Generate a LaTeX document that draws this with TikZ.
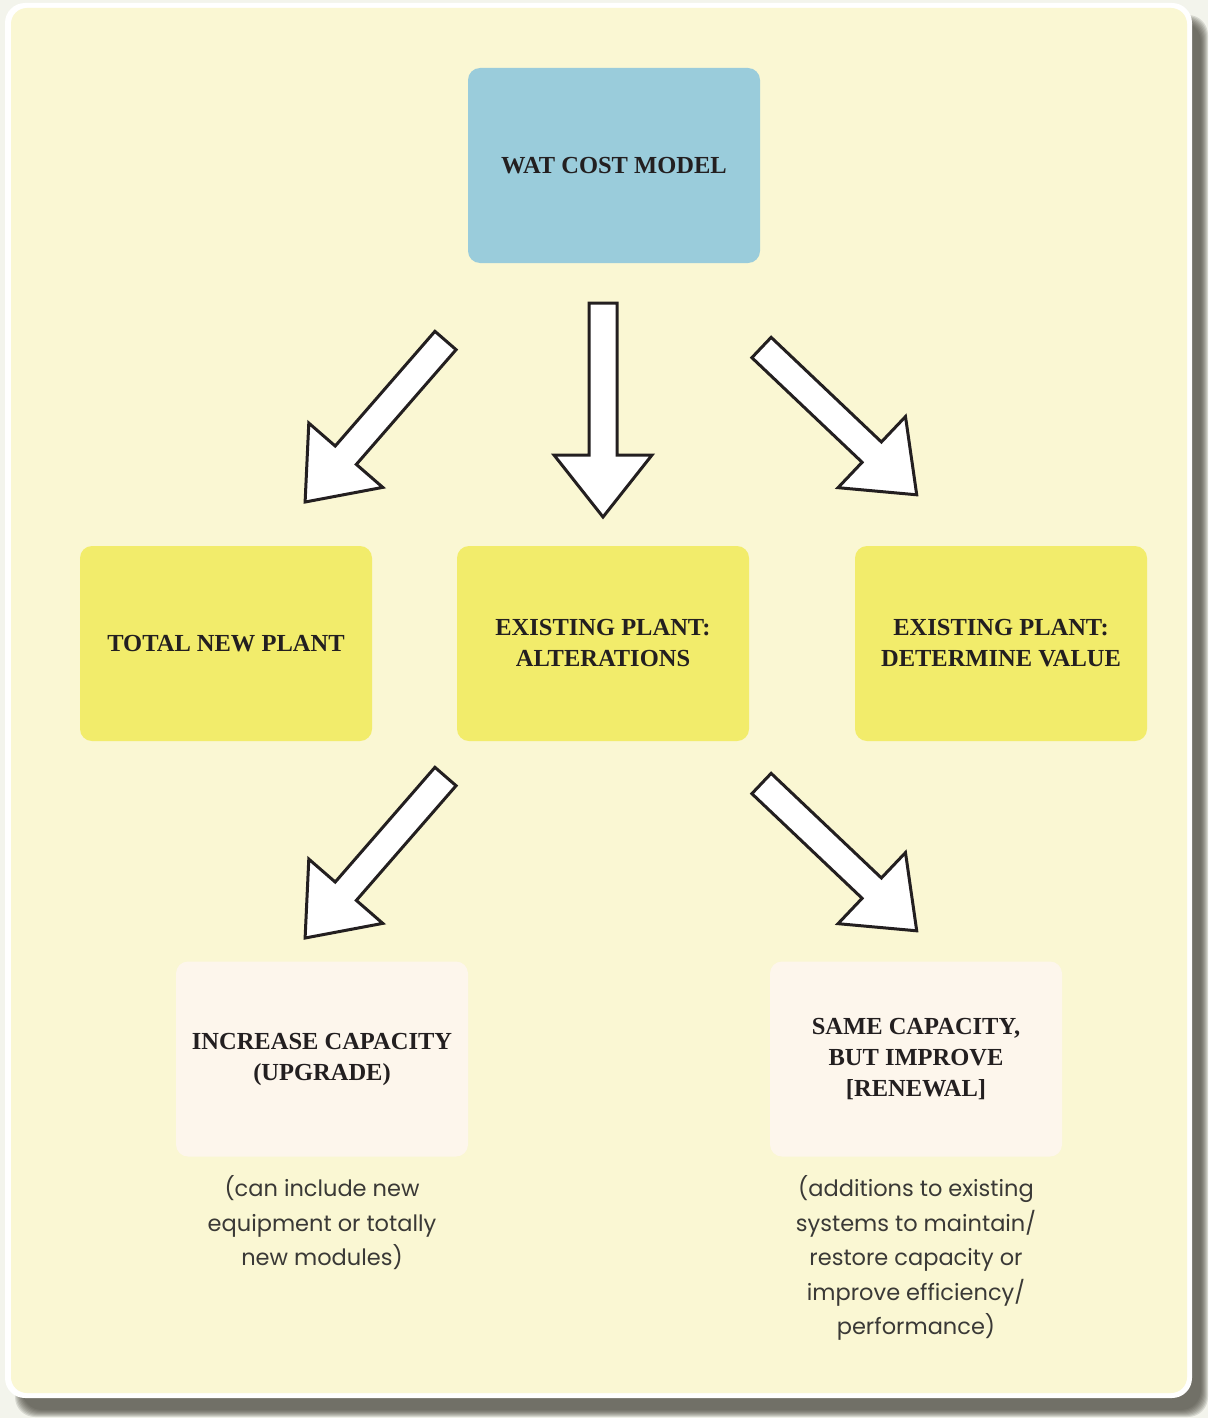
\documentclass[tikz,border=0pt]{standalone}
\usepackage{fontspec}
\setmainfont{Liberation Serif}
\newfontfamily\notefont{Poppins}
\definecolor{pagebg}{HTML}{F3F4EC}
\definecolor{panelc}{HTML}{FAF7D3}
\definecolor{shadowc}{HTML}{4A4940}
\definecolor{bluebox}{HTML}{9ACCDB}
\definecolor{yelbox}{HTML}{F2EC6B}
\definecolor{creambox}{HTML}{FDF6EC}
\definecolor{textc}{HTML}{231F20}
\definecolor{notec}{HTML}{3A3936}
\tikzset{
  box/.style={rounded corners=12pt, minimum width=292pt, minimum height=195pt,
    align=center, inner sep=0pt, text=textc,
    font=\bfseries\fontsize{24.5}{31}\selectfont},
  note/.style={align=center, inner sep=0pt, text=notec,
    font=\notefont\fontsize{22.5}{34.5}\selectfont},
  arrowstyle/.style={draw=textc, fill=white, line width=3pt, line join=miter},
  blockarrow/.pic={\path[arrowstyle] (-14,0) -- (14,0) -- (14,-152) -- (49,-152)
    -- (0,-214) -- (-49,-152) -- (-14,-152) -- cycle;}
}
\begin{document}
\begin{tikzpicture}[x=1pt,y=1pt]
\useasboundingbox (0,0) rectangle (1208,-1418);
\fill[pagebg] (0,0) rectangle (1208,-1418);
% shadow
\foreach \k in {0,...,7}{
  \fill[shadowc, opacity=0.16, rounded corners=20pt]
    (15+\k,-15-\k) rectangle (1208-\k,-1417+\k);
}
% panel
\fill[white, rounded corners=20pt] (5,-3) rectangle (1192,-1398);
\fill[panelc, rounded corners=16pt] (11,-8) rectangle (1187,-1393);

% boxes
\node[box, fill=bluebox] (wat) at (614,-165.5) {WAT COST MODEL};
\node[box, fill=yelbox] (tnp) at (226,-643.5) {TOTAL NEW PLANT};
\node[box, fill=yelbox] (alt) at (603,-643.5) {EXISTING PLANT:\\ALTERATIONS};
\node[box, fill=yelbox] (val) at (1001,-643.5) {EXISTING PLANT:\\DETERMINE VALUE};
\node[box, fill=creambox] (upg) at (322,-1059) {INCREASE CAPACITY\\(UPGRADE)};
\node[box, fill=creambox] (ren) at (916,-1059) {SAME CAPACITY,\\BUT IMPROVE\\{[RENEWAL]}};

% notes
\node[note] (n1) at (322,-1223) {(can include new\\equipment or totally\\new modules)};
\node[note] (n2) at (916,-1258) {(additions to existing\\systems to maintain/\\restore capacity or\\improve efficiency/\\performance)};

% block arrows
\pic[rotate=-41] at (445.5,-340.5) {blockarrow};
\pic at (603,-303) {blockarrow};
\pic[rotate=46.5] at (761.5,-347.5) {blockarrow};
\pic[rotate=-41] at (445.5,-776.5) {blockarrow};
\pic[rotate=46.5] at (761.5,-783.5) {blockarrow};
\end{tikzpicture}
\end{document}
